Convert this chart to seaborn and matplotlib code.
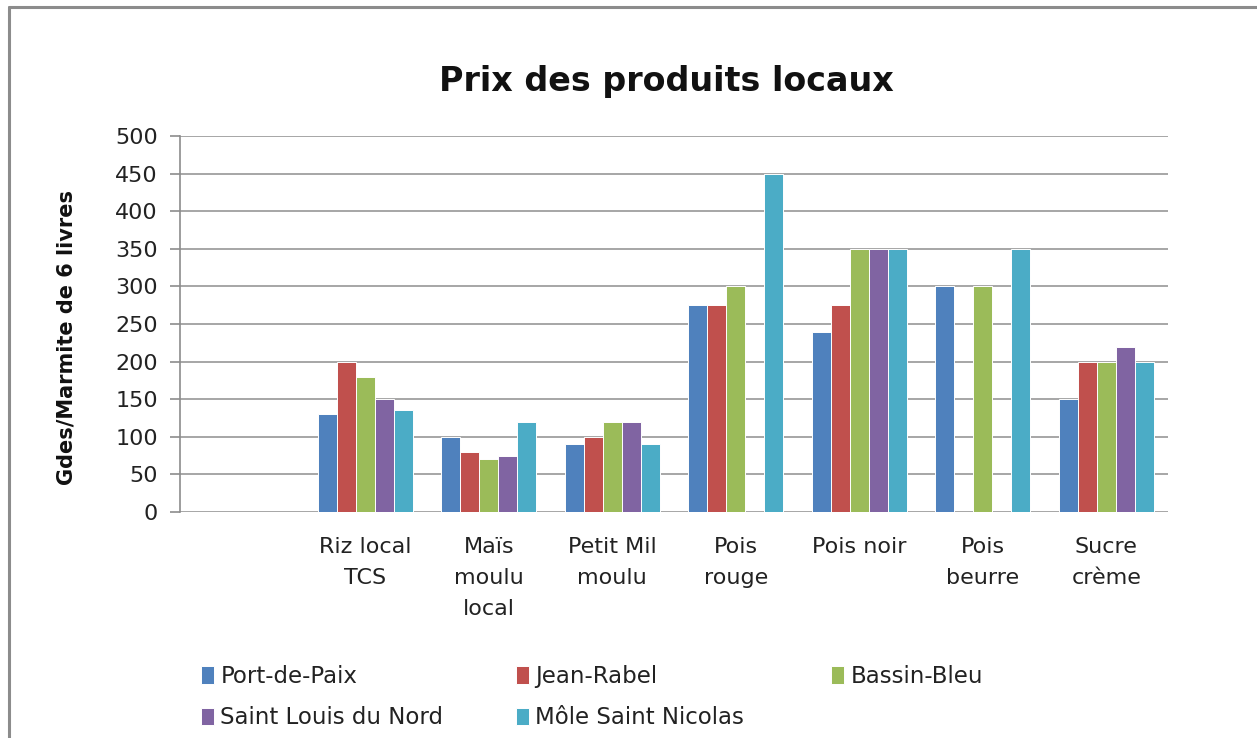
import matplotlib
matplotlib.use("Agg")
import matplotlib.pyplot as plt
from matplotlib.lines import Line2D
import numpy as np
import pandas as pd
import seaborn as sns

categories = ["", "Riz local\nTCS", "Maïs\nmoulu\nlocal", "Petit Mil\nmoulu",
              "Pois\nrouge", "Pois noir", "Pois\nbeurre", "Sucre\ncrème"]
series_names = ["Port-de-Paix", "Jean-Rabel", "Bassin-Bleu",
                "Saint Louis du Nord", "Môle Saint Nicolas"]
port_de_paix = [np.nan, 130, 100, 90, 275, 240, 300, 150]
jean_rabel = [np.nan, 200, 80, 100, 275, 275, np.nan, 200]
bassin_bleu = [np.nan, 180, 70, 120, 300, 350, 300, 200]
saint_louis = [np.nan, 150, 75, 120, np.nan, 350, np.nan, 220]
mole_st_nicolas = [np.nan, 135, 120, 90, 450, 350, 350, 200]
colors = ["#4F81BD", "#C0504D", "#9BBB59", "#8064A2", "#4BACC6"]
yticks = [0, 50, 100, 150, 200, 250, 300, 350, 400, 450, 500]

series_values = [port_de_paix, jean_rabel, bassin_bleu, saint_louis, mole_st_nicolas]
rows = []
for name, vals in zip(series_names, series_values):
    for cat, v in zip(categories, vals):
        rows.append({"Produit": cat, "Commune": name, "Prix": v})
df = pd.DataFrame(rows)

sns.set_theme(style="white")
plt.rcParams["font.family"] = ["DejaVu Sans"]

W, H = 1257, 738
fig = plt.figure(figsize=(W / 100, H / 100), dpi=100)
ax = fig.add_axes([180 / W, 1 - 512 / H, (1168 - 180) / W, (512 - 136) / H])

sns.barplot(data=df, x="Produit", y="Prix", hue="Commune", order=categories,
            hue_order=series_names, palette=colors, saturation=1, width=0.77,
            edgecolor="white", linewidth=0.7, ax=ax, zorder=3)

ax.set_ylim(0, 500)
ax.set_xlim(-0.5, len(categories) - 0.5)
ax.set_yticks(yticks)
ax.set_yticklabels([str(t) for t in yticks], fontsize=16, color="#222222")
ax.yaxis.grid(True, color="#A6A6A6", linewidth=1.4, zorder=0)
ax.set_axisbelow(True)
for s in ["top", "right", "bottom"]:
    ax.spines[s].set_visible(False)
ax.spines["left"].set_color("#8C8C8C")
ax.spines["left"].set_linewidth(1.2)
ax.tick_params(axis="y", which="both", left=True, length=7, width=1.2,
               color="#8C8C8C", pad=9)
ax.tick_params(axis="x", length=0, pad=18)
ax.set_xticks(range(len(categories)))
ax.set_xticklabels(categories, fontsize=16, color="#222222", linespacing=1.7,
                   va="top")
ax.set_xlabel("")
ax.set_ylabel("Gdes/Marmite de 6 livres", fontsize=15, fontweight="bold",
              color="#111111")
ax.yaxis.set_label_coords(-0.105, 0.465)

fig.text(666 / W, 1 - 82 / H, "Prix des produits locaux", fontsize=24,
         fontweight="bold", ha="center", va="center", color="#111111")

handles, labels = ax.get_legend_handles_labels()
if ax.legend_:
    ax.legend_.remove()
columns = [[0, 3], [1, 4], [2]]
col_x = [201, 516, 831]
for xs, idx in zip(col_x, columns):
    leg = fig.legend([handles[i] for i in idx], [labels[i] for i in idx],
                     loc="upper left", bbox_to_anchor=(xs / W, 1 - 665 / H),
                     frameon=False, fontsize=16.5, handlelength=0.55, handleheight=0.8,
                     handletextpad=0.3, labelspacing=0.8, borderpad=0,
                     borderaxespad=0)
    for t in leg.get_texts():
        t.set_color("#222222")

# outer chart frame
fig.add_artist(Line2D([9 / W, 9 / W], [0, 1 - 7 / H], transform=fig.transFigure,
                      color="#8C8C8C", linewidth=2.2))
fig.add_artist(Line2D([9 / W, 1.0], [1 - 7 / H, 1 - 7 / H], transform=fig.transFigure,
                      color="#8C8C8C", linewidth=2.2))

fig.savefig("out.png", dpi=100, facecolor="white")
